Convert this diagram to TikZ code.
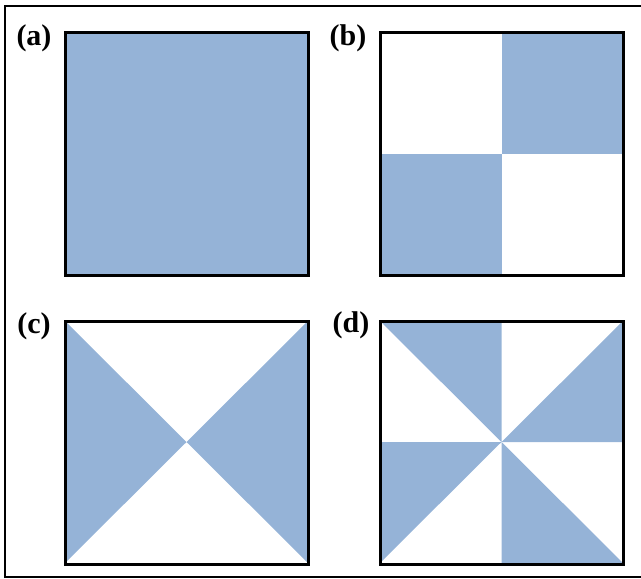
\documentclass[tikz,border=0pt]{standalone}
\usepackage{fontspec}
\setmainfont{Liberation Serif}
\definecolor{panelblue}{RGB}{149,179,215}
\tikzset{panel/.style={draw=black,line width=3pt},
  tag/.style={font=\fontsize{30}{32}\selectfont\bfseries,inner sep=0pt}}
\begin{document}
\begin{tikzpicture}[x=1pt,y=-1pt]
  \useasboundingbox (0,0) rectangle (641,579);
  \draw[line width=2pt] (5,6) rectangle (660,577);
  % (a) full
  \fill[panelblue] (65,32) rectangle (308,275);
  % (b) checker
  \fill[panelblue] (501.5,32) rectangle (623,153.5);
  \fill[panelblue] (380,153.5) rectangle (501.5,275);
  % (c) bowtie
  \fill[panelblue] (65,321) -- (186.5,442) -- (65,563) -- cycle;
  \fill[panelblue] (308,321) -- (186.5,442) -- (308,563) -- cycle;
  % (d) pinwheel
  \coordinate (m) at (501.5,442);
  \fill[panelblue] (m) -- (380,321) -- (501.5,321) -- cycle;
  \fill[panelblue] (m) -- (623,442) -- (623,321) -- cycle;
  \fill[panelblue] (m) -- (501.5,563) -- (623,563) -- cycle;
  \fill[panelblue] (m) -- (380,442) -- (380,563) -- cycle;
  \foreach \x/\y in {65/32,380/32,65/321,380/321}
    \draw[panel] (\x,\y) rectangle ++(243,243);
  \node[tag] (ta) at (34,38) {(a)};
  \node[tag] (tb) at (348,38) {(b)};
  \node[tag] (tc) at (34,326) {(c)};
  \node[tag] (td) at (351,325) {(d)};
\end{tikzpicture}
\end{document}
